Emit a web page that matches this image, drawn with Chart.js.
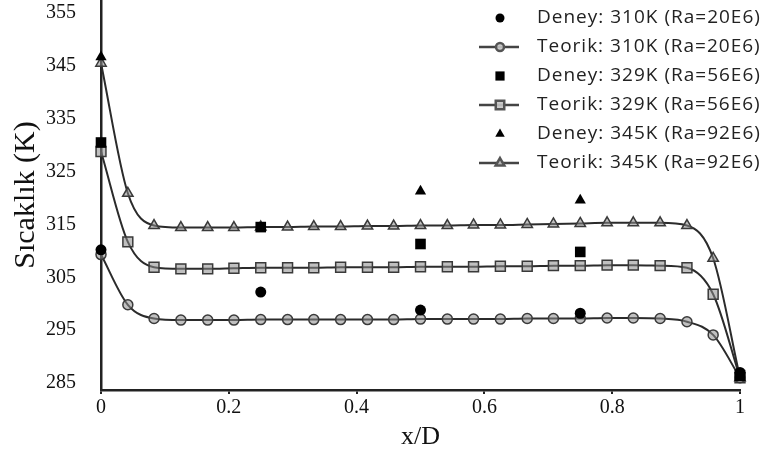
<!DOCTYPE html>
<html>
<head>
<meta charset="utf-8">
<script src="https://cdn.jsdelivr.net/npm/chart.js@4.4.1/dist/chart.umd.min.js"></script>
<style>
  html, body { margin: 0; padding: 0; background: #fff; }
</style>
</head>
<body>
<canvas id="chart" width="768" height="455"></canvas>
<script>
// x/D stations of the computed profiles
const teorikX = [0, 0.042, 0.083, 0.125, 0.167, 0.208, 0.25, 0.292, 0.333, 0.375, 0.417, 0.458,
                 0.5, 0.542, 0.583, 0.625, 0.667, 0.708, 0.75, 0.792, 0.833, 0.875, 0.917, 0.958, 1];
// measurement stations
const deneyX = [0, 0.25, 0.5, 0.75, 1];

// computed temperatures (K)
const teorik310 = [309.3, 299.8, 297.2, 296.9, 296.9, 296.9, 297.0, 297.0, 297.0, 297.0, 297.0, 297.0,
                   297.1, 297.1, 297.1, 297.1, 297.2, 297.2, 297.2, 297.3, 297.3, 297.2, 296.6, 294.1, 286.0];
const teorik329 = [328.8, 311.7, 306.9, 306.6, 306.6, 306.7, 306.8, 306.8, 306.8, 306.9, 306.9, 306.9,
                   307.0, 307.0, 307.0, 307.1, 307.1, 307.2, 307.2, 307.3, 307.3, 307.2, 306.8, 301.8, 286.0];
const teorik345 = [345.5, 320.9, 314.8, 314.4, 314.4, 314.4, 314.5, 314.5, 314.6, 314.6, 314.7, 314.7,
                   314.8, 314.8, 314.9, 314.9, 315.0, 315.1, 315.2, 315.3, 315.3, 315.3, 314.8, 308.6, 286.0];

// measured temperatures (K)
const deney310 = [310.2, 302.2, 298.8, 298.2, 287.0];
const deney329 = [330.5, 314.5, 311.3, 309.8, 286.5];
const deney345 = [346.7, null, 321.3, 319.6, 286.0];

const yTicks = [285, 295, 305, 315, 325, 335, 345, 355];

const labels = [
  'Deney: 310K (Ra=20E6)', 'Teorik: 310K (Ra=20E6)',
  'Deney: 329K (Ra=56E6)', 'Teorik: 329K (Ra=56E6)',
  'Deney: 345K (Ra=92E6)', 'Teorik: 345K (Ra=92E6)'
];

const toPoints = (xs, ys) => xs.map((x, i) => ({ x: x, y: ys[i] }));

function deneySet(label, ys, style, radius) {
  return {
    label: label,
    data: toPoints(deneyX, ys),
    showLine: false,
    pointStyle: style,
    pointRadius: radius,
    pointBackgroundColor: '#000',
    pointBorderColor: '#000',
    pointBorderWidth: 0,
    order: 0,
    clip: false
  };
}

function teorikSet(label, ys, style, radius) {
  return {
    label: label,
    data: toPoints(teorikX, ys),
    showLine: true,
    cubicInterpolationMode: 'monotone',
    borderColor: '#2b2b2b',
    borderWidth: 2,
    pointStyle: style,
    pointRadius: radius,
    pointBackgroundColor: 'rgba(140,140,140,0.55)',
    pointBorderColor: '#3a3a3a',
    pointBorderWidth: 1.5,
    order: 1,
    clip: false
  };
}

// legend drawn inside the plot, line + marker for the computed curves
const legendBox = {
  id: 'legendBox',
  afterDraw(chart) {
    const ctx = chart.ctx;
    ctx.save();
    ctx.font = '19px "Open Sans"';
    ctx.letterSpacing = '1px';
    ctx.textBaseline = 'middle';
    ctx.textAlign = 'left';
    chart.data.datasets.forEach((ds, i) => {
      const y = 18 + i * 29;
      const cx = 500;
      if (ds.showLine) {
        ctx.strokeStyle = '#444';
        ctx.lineWidth = 2.5;
        ctx.beginPath();
        ctx.moveTo(479, y);
        ctx.lineTo(519, y);
        ctx.stroke();
      }
      ctx.fillStyle = ds.showLine ? 'rgba(200,200,200,0.9)' : '#000';
      ctx.strokeStyle = '#555';
      Chart.helpers.drawPoint(ctx, {
        pointStyle: ds.pointStyle,
        radius: ds.pointRadius - 1,
        rotation: 0,
        borderWidth: ds.showLine ? 1 : 0
      }, cx, y);
      ctx.fillStyle = '#222';
      ctx.fillText(ds.label, 537, y);
    });
    ctx.restore();
  }
};

function draw() {
  new Chart(document.getElementById('chart'), {
    type: 'scatter',
    data: {
      datasets: [
        deneySet(labels[0], deney310, 'circle', 5.5),
        teorikSet(labels[1], teorik310, 'circle', 5),
        deneySet(labels[2], deney329, 'rect', 7.5),
        teorikSet(labels[3], teorik329, 'rect', 7),
        deneySet(labels[4], deney345, 'triangle', 6.5),
        teorikSet(labels[5], teorik345, 'triangle', 6)
      ]
    },
    options: {
      responsive: false,
      animation: false,
      devicePixelRatio: 1,
      layout: { autoPadding: false, padding: { left: 0, right: 28, top: 0, bottom: 0 } },
      plugins: {
        legend: { display: false },
        tooltip: { enabled: false }
      },
      scales: {
        x: {
          type: 'linear',
          min: 0,
          max: 1,
          afterFit: (scale) => { scale.height = 65 },
          ticks: {
            stepSize: 0.2,
            padding: 2,
            color: '#111',
            font: { family: "'Liberation Serif', serif", size: 20 },
            callback: (v) => (v === 0 || v === 1) ? String(v) : v.toFixed(1)
          },
          grid: {
            drawOnChartArea: false,
            drawTicks: true,
            tickLength: 4,
            color: '#222',
            lineWidth: 2
          },
          border: { color: '#222', width: 2.5 },
          title: {
            display: true,
            text: 'x/D',
            color: '#111',
            padding: { top: 0, bottom: 2 },
            font: { family: "'Liberation Serif', serif", size: 26 }
          }
        },
        y: {
          type: 'linear',
          min: 283.68,
          max: 357.46,
          afterFit: (scale) => {
            // axis runs to the very top edge, no room kept for the labels
            scale.width = 101;
            scale.paddingTop = 0;
            scale.paddingBottom = 0;
          },
          afterBuildTicks: (scale) => {
            scale.ticks = yTicks.map(v => ({ value: v }));
          },
          ticks: {
            padding: 17,
            color: '#111',
            font: { family: "'Liberation Serif', serif", size: 20 }
          },
          grid: { display: false },
          border: { color: '#222', width: 2.5 },
          title: {
            display: true,
            text: 'Sıcaklık (K)',
            color: '#111',
            padding: { top: 8, bottom: 0 },
            font: { family: "'Liberation Serif', serif", size: 30 }
          }
        }
      }
    },
    plugins: [legendBox]
  });
}

document.fonts.load('19px "Open Sans"').then(draw, draw);
</script>
</body>
</html>
